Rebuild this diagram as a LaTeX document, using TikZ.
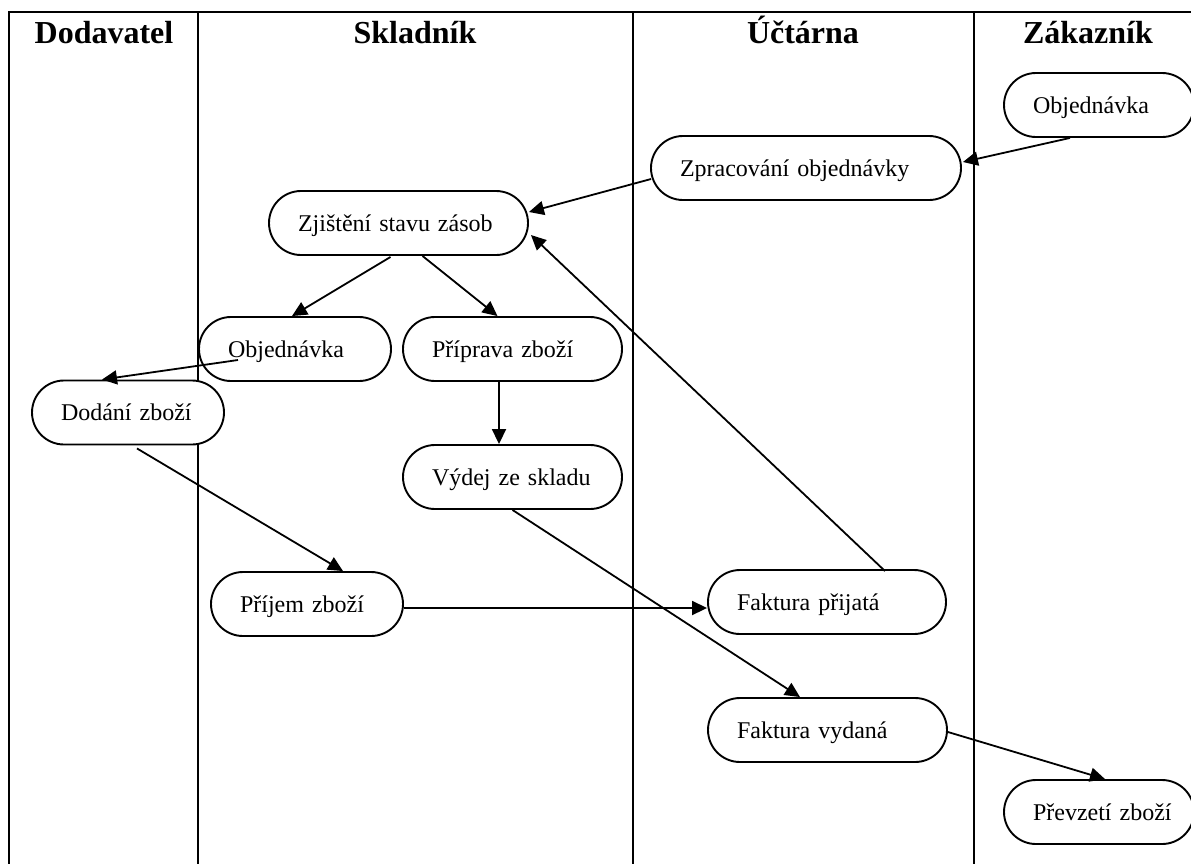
\documentclass[tikz,border=0pt]{standalone}
\usepackage{fontspec}
\setmainfont{Liberation Serif}
\usetikzlibrary{arrows.meta,calc}

\begin{document}
\begin{tikzpicture}[x=1pt,y=-1pt,
  lane/.style={line width=2.2pt},
  head/.style={font=\fontsize{32}{36}\selectfont\bfseries, anchor=base, inner sep=0pt},
  proc/.style={draw, line width=1.9pt, fill=white, rounded corners=32pt,
    minimum height=64pt, inner xsep=0pt, inner ysep=0pt,
    text height=16pt, text depth=0pt, align=left,
    execute at begin node={\hspace*{29pt}},
    font=\fontsize{24}{28}\selectfont},
  flow/.style={line width=1.8pt, -{Triangle[length=15pt,width=14pt]}}
]
\useasboundingbox (0,0) rectangle (1191,863);
\clip (0,0) rectangle (1191,863);

% swimlane frame
\draw[lane] (9,880) -- (9,12) -- (1200,12);
\draw[lane] (198,12) -- (198,880);
\draw[lane] (633,12) -- (633,880);
\draw[lane] (974,12) -- (974,880);

% lane headings
\node[head] (hd) at (104,43) {Dodavatel};
\node[head] (hs) at (415,43) {Skladník};
\node[head] (hu) at (803,43) {Účtárna};
\node[head] (hz) at (1088,43) {Zákazník};

% activities
\node[proc, text width=190pt] (oz) at (1099,105) {Objednávka};
\node[proc, text width=310pt] (zp) at (806,168) {Zpracování objednávky};
\node[proc, text width=259pt] (zs) at (398.5,223) {Zjištění stavu zásob};
\node[proc, text width=192pt] (os) at (295,349) {Objednávka};
\node[proc, text width=219pt] (pp) at (512.5,349) {Příprava zboží};
\node[proc, text width=219pt] (vs) at (512.5,477) {Výdej ze skladu};
\node[proc, text width=192pt] (dz) at (128,412.5) {Dodání zboží};
\node[proc, text width=192pt] (pz) at (307,604) {Příjem zboží};
\node[proc, text width=238pt] (fp) at (827,602) {Faktura přijatá};
\node[proc, text width=239pt] (fv) at (827.5,730) {Faktura vydaná};
\node[proc, text width=190pt] (pv) at (1099,812) {Převzetí zboží};

% flows
\draw[flow] ($(oz.south)+(-29,0)$) -- ($(zp.east)+(1,-6)$);
\draw[flow] ($(zp.west)+(1,11)$) -- ($(zs.east)+(0,-11)$);
\draw[flow] ($(zs.south)+(-8,1)$) -- ($(os.north)+(-3,0)$);
\draw[flow] ($(zs.south)+(24,0)$) -- ($(pp.north)+(-15,0)$);
\draw[flow] ($(os.center)+(-57,11)$) -- ($(dz.north)+(-26,0)$);
\draw[flow] ($(pp.south)+(-13.5,0)$) -- ($(vs.north)+(-13.5,0)$);
\draw[flow] (vs.south) -- ($(fv.north)+(-27.5,0)$);
\draw[flow] ($(dz.south)+(9,3)$) -- ($(pz.north)+(36,0)$);
\draw[flow] ($(pz.east)+(0,4)$) -- ($(fp.west)+(0,6)$);
\draw[flow] ($(fp.north)+(58,2)$) -- ($(zs.east)+(2,12)$);
\draw[flow] ($(fv.east)+(0,2)$) -- ($(pv.north)+(6,0)$);
\end{tikzpicture}
\end{document}
